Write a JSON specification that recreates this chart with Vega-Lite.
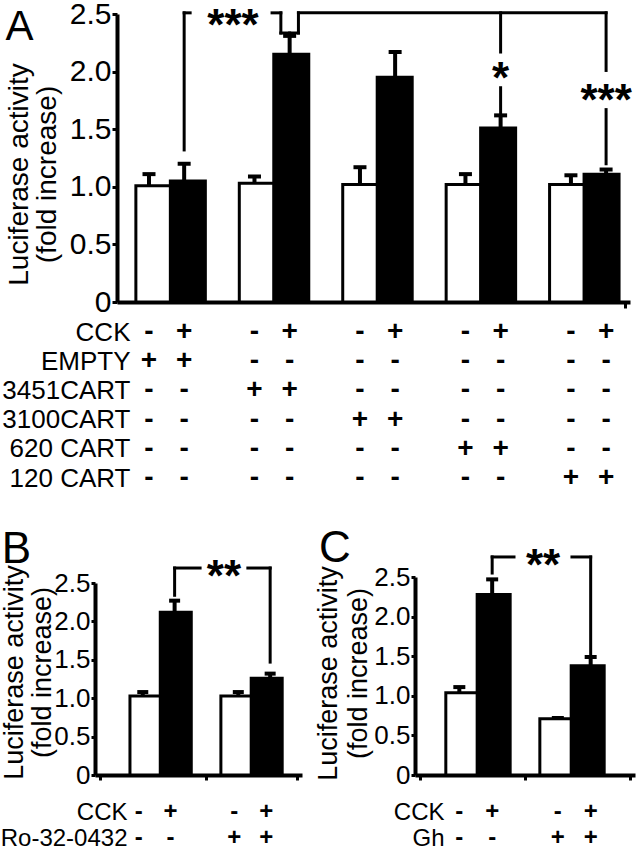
{
  "$schema": "https://vega.github.io/schema/vega-lite/v6.json",
  "width": 639,
  "height": 853,
  "autosize": {"type": "none"},
  "padding": 0,
  "background": "white",
  "config": {
    "view": {"stroke": null},
    "axis": {"grid": false, "domainColor": "black", "tickColor": "black", "labelColor": "black", "titleColor": "black", "labelFont": "Liberation Sans", "titleFont": "Liberation Sans", "titleFontWeight": "normal"},
    "text": {"font": "Liberation Sans", "color": "black"}
  },
  "datasets": {
    "barsA": [
      {"slot": 1, "mean": 1.01, "err": 1.11, "CCK": "-", "EMPTY": "+", "3451CART": "-", "3100CART": "-", "620 CART": "-", "120 CART": "-"},
      {"slot": 2, "mean": 1.05, "err": 1.20, "CCK": "+", "EMPTY": "+", "3451CART": "-", "3100CART": "-", "620 CART": "-", "120 CART": "-"},
      {"slot": 4, "mean": 1.03, "err": 1.09, "CCK": "-", "EMPTY": "-", "3451CART": "+", "3100CART": "-", "620 CART": "-", "120 CART": "-"},
      {"slot": 5, "mean": 2.15, "err": 2.31, "CCK": "+", "EMPTY": "-", "3451CART": "+", "3100CART": "-", "620 CART": "-", "120 CART": "-"},
      {"slot": 7, "mean": 1.02, "err": 1.17, "CCK": "-", "EMPTY": "-", "3451CART": "-", "3100CART": "+", "620 CART": "-", "120 CART": "-"},
      {"slot": 8, "mean": 1.95, "err": 2.17, "CCK": "+", "EMPTY": "-", "3451CART": "-", "3100CART": "+", "620 CART": "-", "120 CART": "-"},
      {"slot": 10, "mean": 1.02, "err": 1.11, "CCK": "-", "EMPTY": "-", "3451CART": "-", "3100CART": "-", "620 CART": "+", "120 CART": "-"},
      {"slot": 11, "mean": 1.51, "err": 1.62, "CCK": "+", "EMPTY": "-", "3451CART": "-", "3100CART": "-", "620 CART": "+", "120 CART": "-"},
      {"slot": 13, "mean": 1.02, "err": 1.10, "CCK": "-", "EMPTY": "-", "3451CART": "-", "3100CART": "-", "620 CART": "-", "120 CART": "+"},
      {"slot": 14, "mean": 1.11, "err": 1.15, "CCK": "+", "EMPTY": "-", "3451CART": "-", "3100CART": "-", "620 CART": "-", "120 CART": "+"}
    ],
    "bracketsA": [
      {"x1": 2, "x2": 2, "y1": 1.32, "y2": 2.51},
      {"x1": 2, "x2": 2.17, "y1": 2.51, "y2": 2.51},
      {"x1": 4.5, "x2": 4.75, "y1": 2.51, "y2": 2.51},
      {"x1": 4.75, "x2": 4.75, "y1": 2.51, "y2": 2.335},
      {"x1": 4.75, "x2": 5.25, "y1": 2.335, "y2": 2.335},
      {"x1": 5.25, "x2": 5.25, "y1": 2.335, "y2": 2.51},
      {"x1": 5, "x2": 5, "y1": 2.335, "y2": 2.31},
      {"x1": 5.25, "x2": 14, "y1": 2.51, "y2": 2.51},
      {"x1": 11, "x2": 11, "y1": 2.51, "y2": 2.17},
      {"x1": 11, "x2": 11, "y1": 1.86, "y2": 1.64},
      {"x1": 14, "x2": 14, "y1": 2.51, "y2": 2.01},
      {"x1": 14, "x2": 14, "y1": 1.67, "y2": 1.2}
    ],
    "starsA": [
      {"label": "***", "x": 3.39, "y": 2.27},
      {"label": "*", "x": 11, "y": 1.81},
      {"label": "***", "x": 14, "y": 1.62}
    ],
    "letterA": [{"label": "A", "x": -2.68, "y": 2.274}],
    "barsB": [
      {"slot": 1, "mean": 1.03, "err": 1.08, "CCK": "-", "Ro-32-0432": "-"},
      {"slot": 2, "mean": 2.12, "err": 2.27, "CCK": "+", "Ro-32-0432": "-"},
      {"slot": 4, "mean": 1.03, "err": 1.08, "CCK": "-", "Ro-32-0432": "+"},
      {"slot": 5, "mean": 1.26, "err": 1.32, "CCK": "+", "Ro-32-0432": "+"}
    ],
    "bracketsB": [
      {"x1": 2, "x2": 2, "y1": 2.34, "y2": 2.695},
      {"x1": 2, "x2": 2.8, "y1": 2.695, "y2": 2.695},
      {"x1": 4.3, "x2": 5, "y1": 2.695, "y2": 2.695},
      {"x1": 5, "x2": 5, "y1": 2.695, "y2": 1.47}
    ],
    "starsB": [{"label": "**", "x": 3.55, "y": 2.39}],
    "letterB": [{"label": "B", "x": -2.965, "y": 2.76}],
    "barsC": [
      {"slot": 1, "mean": 1.04, "err": 1.11, "CCK": "-", "Gh": "-"},
      {"slot": 2, "mean": 2.28, "err": 2.47, "CCK": "+", "Gh": "-"},
      {"slot": 4, "mean": 0.71, "err": 0.72, "CCK": "-", "Gh": "+"},
      {"slot": 5, "mean": 1.38, "err": 1.49, "CCK": "+", "Gh": "+"}
    ],
    "bracketsC": [
      {"x1": 2, "x2": 2, "y1": 2.55, "y2": 2.753},
      {"x1": 2, "x2": 2.665, "y1": 2.753, "y2": 2.753},
      {"x1": 4.43, "x2": 5, "y1": 2.753, "y2": 2.753},
      {"x1": 5, "x2": 5, "y1": 2.753, "y2": 1.49}
    ],
    "starsC": [{"label": "**", "x": 3.55, "y": 2.456}],
    "letterC": [{"label": "C", "x": -2.786, "y": 2.69}]
  },
  "layer": [
    {
      "data": {"name": "barsA"},
      "mark": {"type": "bar", "orient": "vertical", "width": 35, "stroke": "black", "strokeWidth": 3},
      "encoding": {
        "x": {"field": "slot", "type": "quantitative", "scale": {"domain": [0.09, 14.68], "range": [117, 630]},
              "axis": {"orient": "bottom", "offset": -551, "values": [14.68], "labels": false, "tickSize": 6, "tickWidth": 3, "domainWidth": 4, "title": null}},
        "y": {"field": "mean", "type": "quantitative", "stack": null, "scale": {"domain": [0, 2.5], "range": [302, 14]},
              "axis": {"orient": "left", "offset": -117, "values": [0, 0.5, 1, 1.5, 2, 2.5], "labelExpr": "datum.value == 0 ? '0' : format(datum.value, '.1f')",
                       "labelFontSize": 30, "labelPadding": 1, "tickSize": 5, "tickWidth": 3, "domainWidth": 4,
                       "title": ["Luciferase activity", "(fold increase)"], "titleFontSize": 28, "titleLineHeight": 28,
                       "titleAngle": -90, "titleAlign": "center", "titleBaseline": "alphabetic", "titleX": -90, "titleY": 174}},
        "fill": {"condition": {"test": "datum.CCK == '+'", "value": "black"}, "value": "white"}
      }
    },
    {
      "data": {"name": "barsA"},
      "mark": {"type": "rule", "strokeWidth": 4, "color": "black"},
      "encoding": {
        "x": {"field": "slot", "type": "quantitative", "scale": {"domain": [0.09, 14.68], "range": [117, 630]}, "axis": null},
        "y": {"field": "mean", "type": "quantitative", "scale": {"domain": [0, 2.5], "range": [302, 14]}, "axis": null},
        "y2": {"field": "err"}
      }
    },
    {
      "data": {"name": "barsA"},
      "mark": {"type": "tick", "orient": "horizontal", "size": 13, "thickness": 4, "color": "black", "opacity": 1},
      "encoding": {
        "x": {"field": "slot", "type": "quantitative", "scale": {"domain": [0.09, 14.68], "range": [117, 630]}, "axis": null},
        "y": {"field": "err", "type": "quantitative", "scale": {"domain": [0, 2.5], "range": [302, 14]}, "axis": null}
      }
    },
    {
      "data": {"name": "bracketsA"},
      "mark": {"type": "rule", "strokeWidth": 3, "color": "black", "strokeCap": "square"},
      "encoding": {
        "x": {"field": "x1", "type": "quantitative", "scale": {"domain": [0.09, 14.68], "range": [117, 630]}, "axis": null},
        "x2": {"field": "x2"},
        "y": {"field": "y1", "type": "quantitative", "scale": {"domain": [0, 2.5], "range": [302, 14]}, "axis": null},
        "y2": {"field": "y2"}
      }
    },
    {
      "data": {"name": "starsA"},
      "mark": {"type": "text", "fontSize": 44, "fontWeight": "bold", "align": "center", "baseline": "alphabetic"},
      "encoding": {
        "x": {"field": "x", "type": "quantitative", "scale": {"domain": [0.09, 14.68], "range": [117, 630]}, "axis": null},
        "y": {"field": "y", "type": "quantitative", "scale": {"domain": [0, 2.5], "range": [302, 14]}, "axis": null},
        "text": {"field": "label"}
      }
    },
    {
      "data": {"name": "letterA"},
      "mark": {"type": "text", "fontSize": 42, "align": "center", "baseline": "alphabetic"},
      "encoding": {
        "x": {"field": "x", "type": "quantitative", "scale": {"domain": [0.09, 14.68], "range": [117, 630]}, "axis": null},
        "y": {"field": "y", "type": "quantitative", "scale": {"domain": [0, 2.5], "range": [302, 14]}, "axis": null},
        "text": {"field": "label"}
      }
    },
    {
      "data": {"name": "barsA"},
      "transform": [{"fold": ["CCK", "EMPTY", "3451CART", "3100CART", "620 CART", "120 CART"], "as": ["factor", "sign"]}],
      "mark": {"type": "text", "fontSize": 28, "fontWeight": "bold", "align": "center", "baseline": "middle"},
      "encoding": {
        "x": {"field": "slot", "type": "quantitative", "scale": {"domain": [0.09, 14.68], "range": [117, 630]}, "axis": null},
        "y": {"field": "factor", "type": "nominal",
              "scale": {"type": "point", "domain": ["CCK", "EMPTY", "3451CART", "3100CART", "620 CART", "120 CART"], "range": [332, 478], "padding": 0},
              "axis": {"orient": "left", "offset": -130, "domain": false, "ticks": false, "tickSize": 0, "labelPadding": 0, "labelFontSize": 26, "title": null}},
        "text": {"field": "sign"}
      }
    },
    {
      "data": {"name": "barsB"},
      "mark": {"type": "bar", "orient": "vertical", "width": 31, "stroke": "black", "strokeWidth": 3},
      "encoding": {
        "x": {"field": "slot", "type": "quantitative", "scale": {"domain": [-0.5, 6], "range": [95, 302]},
              "axis": {"orient": "bottom", "offset": -78, "values": [-0.5, 3, 6], "labels": false, "tickSize": 5, "tickWidth": 3, "domainWidth": 4, "title": null}},
        "y": {"field": "mean", "type": "quantitative", "stack": null, "scale": {"domain": [0, 2.5], "range": [775, 583]},
              "axis": {"orient": "left", "offset": -95, "values": [0, 0.5, 1, 1.5, 2, 2.5], "labelExpr": "datum.value == 0 ? '0' : format(datum.value, '.1f')",
                       "labelFontSize": 26, "labelPadding": 1, "tickSize": 4, "tickWidth": 3, "domainWidth": 4,
                       "title": ["Luciferase activity", "(fold increase)"], "titleFontSize": 27, "titleLineHeight": 28,
                       "titleAngle": -90, "titleAlign": "center", "titleBaseline": "alphabetic", "titleX": -73, "titleY": 672}},
        "fill": {"condition": {"test": "datum.CCK == '+'", "value": "black"}, "value": "white"}
      }
    },
    {
      "data": {"name": "barsB"},
      "mark": {"type": "rule", "strokeWidth": 4, "color": "black"},
      "encoding": {
        "x": {"field": "slot", "type": "quantitative", "scale": {"domain": [-0.5, 6], "range": [95, 302]}, "axis": null},
        "y": {"field": "mean", "type": "quantitative", "scale": {"domain": [0, 2.5], "range": [775, 583]}, "axis": null},
        "y2": {"field": "err"}
      }
    },
    {
      "data": {"name": "barsB"},
      "mark": {"type": "tick", "orient": "horizontal", "size": 11, "thickness": 4, "color": "black", "opacity": 1},
      "encoding": {
        "x": {"field": "slot", "type": "quantitative", "scale": {"domain": [-0.5, 6], "range": [95, 302]}, "axis": null},
        "y": {"field": "err", "type": "quantitative", "scale": {"domain": [0, 2.5], "range": [775, 583]}, "axis": null}
      }
    },
    {
      "data": {"name": "bracketsB"},
      "mark": {"type": "rule", "strokeWidth": 3, "color": "black", "strokeCap": "square"},
      "encoding": {
        "x": {"field": "x1", "type": "quantitative", "scale": {"domain": [-0.5, 6], "range": [95, 302]}, "axis": null},
        "x2": {"field": "x2"},
        "y": {"field": "y1", "type": "quantitative", "scale": {"domain": [0, 2.5], "range": [775, 583]}, "axis": null},
        "y2": {"field": "y2"}
      }
    },
    {
      "data": {"name": "starsB"},
      "mark": {"type": "text", "fontSize": 44, "fontWeight": "bold", "align": "center", "baseline": "alphabetic"},
      "encoding": {
        "x": {"field": "x", "type": "quantitative", "scale": {"domain": [-0.5, 6], "range": [95, 302]}, "axis": null},
        "y": {"field": "y", "type": "quantitative", "scale": {"domain": [0, 2.5], "range": [775, 583]}, "axis": null},
        "text": {"field": "label"}
      }
    },
    {
      "data": {"name": "letterB"},
      "mark": {"type": "text", "fontSize": 44, "align": "center", "baseline": "alphabetic"},
      "encoding": {
        "x": {"field": "x", "type": "quantitative", "scale": {"domain": [-0.5, 6], "range": [95, 302]}, "axis": null},
        "y": {"field": "y", "type": "quantitative", "scale": {"domain": [0, 2.5], "range": [775, 583]}, "axis": null},
        "text": {"field": "label"}
      }
    },
    {
      "data": {"name": "barsB"},
      "transform": [{"fold": ["CCK", "Ro-32-0432"], "as": ["factor", "sign"]}],
      "mark": {"type": "text", "fontSize": 24, "fontWeight": "bold", "align": "center", "baseline": "middle", "dx": -4},
      "encoding": {
        "x": {"field": "slot", "type": "quantitative", "scale": {"domain": [-0.5, 6], "range": [95, 302]}, "axis": null},
        "y": {"field": "factor", "type": "nominal",
              "scale": {"type": "point", "domain": ["CCK", "Ro-32-0432"], "range": [812, 838], "padding": 0},
              "axis": {"orient": "left", "offset": -127, "domain": false, "ticks": false, "tickSize": 0, "labelPadding": 0, "labelFontSize": 24, "title": null}},
        "text": {"field": "sign"}
      }
    },
    {
      "data": {"name": "barsC"},
      "mark": {"type": "bar", "orient": "vertical", "width": 33, "stroke": "black", "strokeWidth": 3},
      "encoding": {
        "x": {"field": "slot", "type": "quantitative", "scale": {"domain": [-0.35, 6.35], "range": [415, 635]},
              "axis": {"orient": "bottom", "offset": -78, "values": [-0.35, 3, 6.35], "labels": false, "tickSize": 5, "tickWidth": 3, "domainWidth": 4, "title": null}},
        "y": {"field": "mean", "type": "quantitative", "stack": null, "scale": {"domain": [0, 2.5], "range": [775, 577]},
              "axis": {"orient": "left", "offset": -415, "values": [0, 0.5, 1, 1.5, 2, 2.5], "labelExpr": "datum.value == 0 ? '0' : format(datum.value, '.1f')",
                       "labelFontSize": 26, "labelPadding": 1, "tickSize": 4, "tickWidth": 3, "domainWidth": 4,
                       "title": ["Luciferase activity", "(fold increase)"], "titleFontSize": 27, "titleLineHeight": 30,
                       "titleAngle": -90, "titleAlign": "center", "titleBaseline": "alphabetic", "titleX": -79, "titleY": 673}},
        "fill": {"condition": {"test": "datum.CCK == '+'", "value": "black"}, "value": "white"}
      }
    },
    {
      "data": {"name": "barsC"},
      "mark": {"type": "rule", "strokeWidth": 4, "color": "black"},
      "encoding": {
        "x": {"field": "slot", "type": "quantitative", "scale": {"domain": [-0.35, 6.35], "range": [415, 635]}, "axis": null},
        "y": {"field": "mean", "type": "quantitative", "scale": {"domain": [0, 2.5], "range": [775, 577]}, "axis": null},
        "y2": {"field": "err"}
      }
    },
    {
      "data": {"name": "barsC"},
      "mark": {"type": "tick", "orient": "horizontal", "size": 12, "thickness": 4, "color": "black", "opacity": 1},
      "encoding": {
        "x": {"field": "slot", "type": "quantitative", "scale": {"domain": [-0.35, 6.35], "range": [415, 635]}, "axis": null},
        "y": {"field": "err", "type": "quantitative", "scale": {"domain": [0, 2.5], "range": [775, 577]}, "axis": null}
      }
    },
    {
      "data": {"name": "bracketsC"},
      "mark": {"type": "rule", "strokeWidth": 3, "color": "black", "strokeCap": "square"},
      "encoding": {
        "x": {"field": "x1", "type": "quantitative", "scale": {"domain": [-0.35, 6.35], "range": [415, 635]}, "axis": null},
        "x2": {"field": "x2"},
        "y": {"field": "y1", "type": "quantitative", "scale": {"domain": [0, 2.5], "range": [775, 577]}, "axis": null},
        "y2": {"field": "y2"}
      }
    },
    {
      "data": {"name": "starsC"},
      "mark": {"type": "text", "fontSize": 44, "fontWeight": "bold", "align": "center", "baseline": "alphabetic"},
      "encoding": {
        "x": {"field": "x", "type": "quantitative", "scale": {"domain": [-0.35, 6.35], "range": [415, 635]}, "axis": null},
        "y": {"field": "y", "type": "quantitative", "scale": {"domain": [0, 2.5], "range": [775, 577]}, "axis": null},
        "text": {"field": "label"}
      }
    },
    {
      "data": {"name": "letterC"},
      "mark": {"type": "text", "fontSize": 44, "align": "center", "baseline": "alphabetic"},
      "encoding": {
        "x": {"field": "x", "type": "quantitative", "scale": {"domain": [-0.35, 6.35], "range": [415, 635]}, "axis": null},
        "y": {"field": "y", "type": "quantitative", "scale": {"domain": [0, 2.5], "range": [775, 577]}, "axis": null},
        "text": {"field": "label"}
      }
    },
    {
      "data": {"name": "barsC"},
      "transform": [{"fold": ["CCK", "Gh"], "as": ["factor", "sign"]}],
      "mark": {"type": "text", "fontSize": 24, "fontWeight": "bold", "align": "center", "baseline": "middle"},
      "encoding": {
        "x": {"field": "slot", "type": "quantitative", "scale": {"domain": [-0.35, 6.35], "range": [415, 635]}, "axis": null},
        "y": {"field": "factor", "type": "nominal",
              "scale": {"type": "point", "domain": ["CCK", "Gh"], "range": [812, 838], "padding": 0},
              "axis": {"orient": "left", "offset": -444, "domain": false, "ticks": false, "tickSize": 0, "labelPadding": 0, "labelFontSize": 24, "title": null}},
        "text": {"field": "sign"}
      }
    }
  ],
  "resolve": {"scale": {"x": "independent", "y": "independent"}, "axis": {"x": "independent", "y": "independent"}}
}
